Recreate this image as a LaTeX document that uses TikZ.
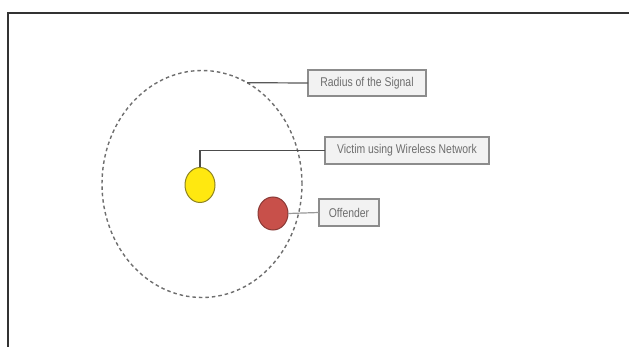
\documentclass[tikz,border=0pt]{standalone}
\usepackage{fontspec}
\usetikzlibrary{shapes.geometric}
\newfontfamily\labelfont[FakeStretch=0.82]{Liberation Sans}
\definecolor{framegray}{HTML}{333333}
\definecolor{dashgray}{HTML}{6E6E6E}
\definecolor{boxfill}{HTML}{F2F2F2}
\definecolor{boxline}{HTML}{8C8C8C}
\definecolor{boxtext}{HTML}{6E6E6E}
\definecolor{victimyellow}{HTML}{FFE810}
\definecolor{victimedge}{HTML}{8E8420}
\definecolor{offenderred}{HTML}{C8504A}
\definecolor{offenderedge}{HTML}{8A3A36}
\tikzset{
  x=1pt, y=-1pt,
  labelbox/.style={draw=boxline, fill=boxfill, line width=1.3pt, text=boxtext,
    font=\labelfont\fontsize{12.7}{14}\selectfont, inner sep=0pt, outer sep=0pt,
    minimum height=26pt},
  leader/.style={line width=1.2pt},
  person/.style={ellipse, line width=1pt, inner sep=0pt, outer sep=0pt,
    minimum width=30pt, minimum height=35pt},
  signalrange/.style={ellipse, draw=dashgray, line width=1.4pt,
    dash pattern=on 3.5pt off 3pt, inner sep=0pt, outer sep=0pt,
    minimum width=200pt, minimum height=227pt}
}
\begin{document}
\begin{tikzpicture}
\useasboundingbox (0,0) rectangle (629,347);
\fill[white] (0,0) rectangle (629,347);
% outer frame, open to the right and bottom
\draw[framegray, line width=1.9pt] (8,347) -- (8,13) -- (629,13);

% signal range
\node[signalrange] (sig) at (202,184) {};

% people
\node[person, draw=victimedge, fill=victimyellow] (yel) at (200,185) {};
\node[person, draw=offenderedge, fill=offenderred, minimum height=33pt] (red) at (273,213.5) {};

% labels
\node[labelbox, minimum width=118pt] (rad) at (367,83) {Radius of the Signal};
\node[labelbox, minimum width=164pt, minimum height=27pt] (vic) at (407,150.5) {Victim using Wireless Network};
\node[labelbox, minimum width=60pt, minimum height=27pt] (off) at (349,212.5) {Offender};

% leader lines
\draw[leader, draw=black!65] (rad.west) -- (sig.66);
\draw[leader, draw=black!70] (vic.west) -| (yel.north);
\draw[leader, draw=black!40] (off.west) -- (red.east);
\end{tikzpicture}
\end{document}
